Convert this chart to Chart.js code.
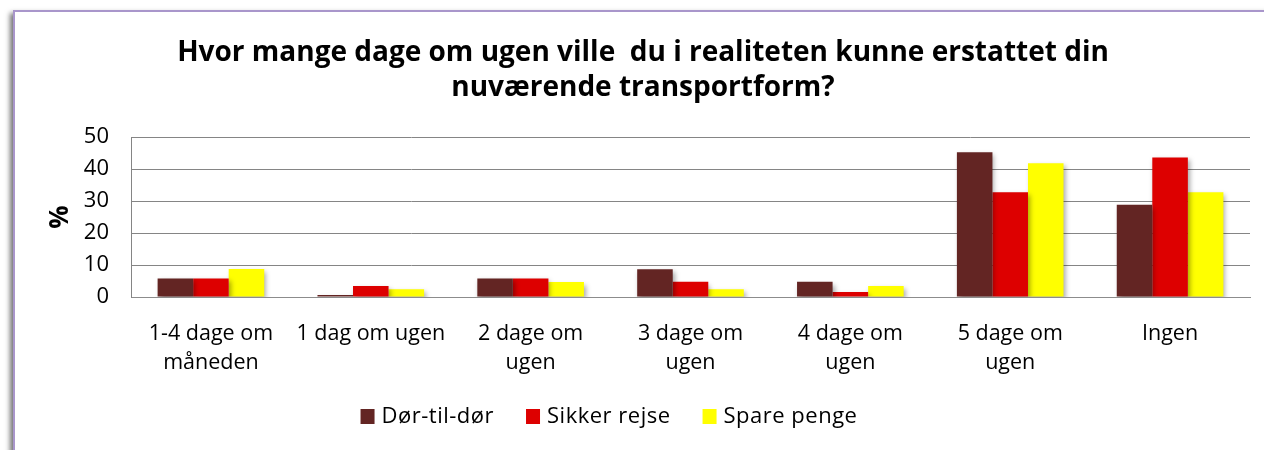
<!DOCTYPE html>
<html>
<head>
<meta charset="utf-8">
<script src="https://cdn.jsdelivr.net/npm/chart.js@4.4.1/dist/chart.umd.min.js"></script>
<style>
  html, body { margin: 0; padding: 0; background: #ffffff; }
  #wrap { width: 1264px; height: 450px; position: relative; }
</style>
</head>
<body>
<div id="wrap"><canvas id="c" width="1264" height="450"></canvas></div>
<script>
const titleLines = ['Hvor mange dage om ugen ville  du i realiteten kunne erstattet din', 'nuværende transportform?'];
const categories = [
  ['1-4 dage om', 'måneden'],
  '1 dag om ugen',
  ['2 dage om', 'ugen'],
  ['3 dage om', 'ugen'],
  ['4 dage om', 'ugen'],
  ['5 dage om', 'ugen'],
  'Ingen'
];
const seriesNames = ['Dør-til-dør', 'Sikker rejse', 'Spare penge'];
const dorTilDor   = [5.8, 0.6, 5.8, 8.7, 4.8, 45.2, 28.8];
const sikkerRejse = [5.8, 3.4, 5.8, 4.8, 1.6, 32.7, 43.6];
const sparePenge  = [8.75, 2.4, 4.7, 2.4, 3.4, 41.8, 32.7];
const yTicks = [0, 10, 20, 30, 40, 50];
const yAxisLabel = '%';

const colors = ['#632523', '#DD0000', '#FFFF00'];
const FONT = "'Open Sans', 'DejaVu Sans', sans-serif";

const framePlugin = {
  id: 'frame',
  beforeDraw(chart) {
    const ctx = chart.ctx;
    ctx.save();
    ctx.fillStyle = '#ffffff';
    ctx.fillRect(0, 0, chart.width, chart.height);
    ctx.shadowColor = 'rgba(0,0,0,0.55)';
    ctx.shadowBlur = 5;
    ctx.shadowOffsetX = -4;
    ctx.shadowOffsetY = 2;
    ctx.fillStyle = '#ffffff';
    ctx.fillRect(14, 11, 1400, 600);
    ctx.shadowColor = 'transparent';
    ctx.strokeStyle = '#A996CB';
    ctx.lineWidth = 2;
    ctx.strokeRect(14, 11, 1400, 600);
    ctx.restore();
  }
};

const barShadowPlugin = {
  id: 'barShadow',
  beforeDatasetsDraw(chart) {
    const ctx = chart.ctx;
    ctx.save();
    ctx.shadowColor = 'rgba(0,0,0,0.35)';
    ctx.shadowBlur = 5;
    ctx.shadowOffsetX = 2;
    ctx.shadowOffsetY = 3;
  },
  afterDatasetsDraw(chart) {
    chart.ctx.restore();
  }
};

const titlePlugin = {
  id: 'customTitle',
  afterDraw(chart) {
    const ctx = chart.ctx;
    ctx.save();
    ctx.fillStyle = '#000000';
    ctx.font = "bold 28px " + FONT;
    ctx.textAlign = 'center';
    ctx.textBaseline = 'alphabetic';
    ctx.fillText(titleLines[0], 643, 61);
    ctx.fillText(titleLines[1], 643, 96);
    ctx.restore();
  }
};

const legendPlugin = {
  id: 'customLegend',
  afterDraw(chart) {
    const ctx = chart.ctx;
    ctx.save();
    ctx.font = "22px " + FONT;
    try { ctx.letterSpacing = '0.5px'; } catch (e) {}
    ctx.textBaseline = 'middle';
    ctx.textAlign = 'left';
    const box = 14, gap = 7, spacing = 32;
    const ds = chart.data.datasets;
    let total = 0;
    const widths = ds.map(d => ctx.measureText(d.label).width);
    widths.forEach((w, i) => { total += box + gap + w + (i < widths.length - 1 ? spacing : 0); });
    let x = 609 - total / 2;
    const yc = 416;
    ds.forEach((d, i) => {
      ctx.fillStyle = d.backgroundColor;
      ctx.fillRect(x, yc - box / 2, box, box + 1);
      ctx.fillStyle = '#000000';
      ctx.fillText(d.label, x + box + gap, yc + 1);
      x += box + gap + widths[i] + spacing;
    });
    ctx.restore();
  }
};

new Chart(document.getElementById('c'), {
  type: 'bar',
  data: {
    labels: categories,
    datasets: [
      { label: seriesNames[0], data: dorTilDor, backgroundColor: colors[0] },
      { label: seriesNames[1], data: sikkerRejse, backgroundColor: colors[1] },
      { label: seriesNames[2], data: sparePenge, backgroundColor: colors[2] }
    ]
  },
  options: {
    responsive: false,
    animation: false,
    devicePixelRatio: 1,
    layout: { padding: { left: 45, right: 14, top: 137, bottom: 73 } },
    datasets: { bar: { categoryPercentage: 0.667, barPercentage: 1.0, borderWidth: 0 } },
    plugins: {
      legend: { display: false },
      title: { display: false },
      tooltip: { enabled: false }
    },
    scales: {
      x: {
        grid: { display: false, drawTicks: false },
        border: { display: true, color: '#8c8c8c', width: 1 },
        ticks: {
          color: '#000000',
          font: { family: FONT, size: 21.5, lineHeight: 1.37 },
          padding: 22,
          maxRotation: 0,
          autoSkip: false
        },
        afterFit(scale) { scale.height = 80; }
      },
      y: {
        min: 0,
        max: 50,
        afterBuildTicks(scale) { scale.ticks = yTicks.map(v => ({ value: v })); },
        grid: { color: '#858585', lineWidth: 1, drawTicks: false },
        border: { display: true, color: '#858585', width: 1 },
        ticks: {
          color: '#000000',
          font: { family: FONT, size: 22 },
          padding: 22
        },
        title: {
          display: true,
          text: yAxisLabel,
          color: '#000000',
          font: { family: FONT, size: 26, weight: 'bold' },
          padding: 0
        },
        afterFit(scale) { scale.width = 86; }
      }
    }
  },
  plugins: [framePlugin, barShadowPlugin, titlePlugin, legendPlugin]
});
</script>
</body>
</html>
